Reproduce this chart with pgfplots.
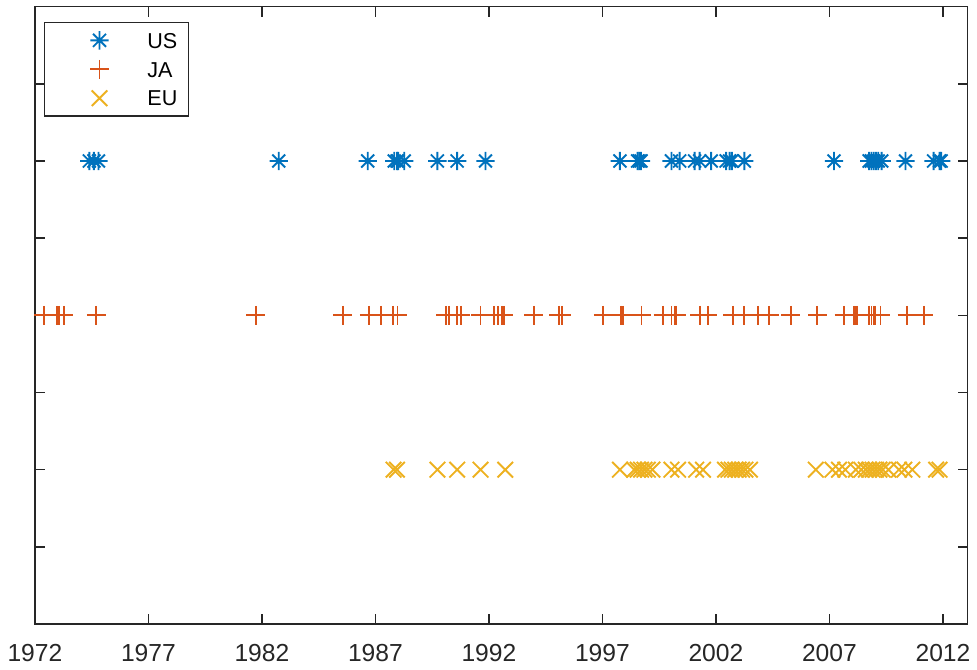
\documentclass[border=0pt]{standalone}
\usepackage{pgfplots}
\pgfplotsset{compat=1.18}
\usepackage{fontspec}
\setmainfont{Liberation Sans}
\definecolor{cUS}{rgb}{0,0.447,0.741}
\definecolor{cJA}{rgb}{0.85,0.325,0.098}
\definecolor{cEU}{rgb}{0.929,0.694,0.125}
\definecolor{axc}{rgb}{0.15,0.15,0.15}
\pgfdeclareplotmark{mstar}{%
  \pgfpathmoveto{\pgfqpoint{-4.6pt}{0pt}}\pgfpathlineto{\pgfqpoint{4.6pt}{0pt}}%
  \pgfpathmoveto{\pgfqpoint{0pt}{-4.6pt}}\pgfpathlineto{\pgfqpoint{0pt}{4.6pt}}%
  \pgfpathmoveto{\pgfqpoint{-3.25pt}{-3.25pt}}\pgfpathlineto{\pgfqpoint{3.25pt}{3.25pt}}%
  \pgfpathmoveto{\pgfqpoint{-3.25pt}{3.25pt}}\pgfpathlineto{\pgfqpoint{3.25pt}{-3.25pt}}%
  \pgfusepathqstroke}
\pgfdeclareplotmark{mx}{%
  \pgfpathmoveto{\pgfqpoint{-3.9pt}{-3.9pt}}\pgfpathlineto{\pgfqpoint{3.9pt}{3.9pt}}%
  \pgfpathmoveto{\pgfqpoint{-3.9pt}{3.9pt}}\pgfpathlineto{\pgfqpoint{3.9pt}{-3.9pt}}%
  \pgfusepathqstroke}
\begin{document}
\begin{tikzpicture}
\begin{axis}[
  at={(0,0)}, anchor=south west,
  scale only axis, width=467.5pt, height=309.5pt,
  xmin=1972, xmax=2013.08, ymin=0, ymax=4,
  xtick={1972,1977,1982,1987,1992,1997,2002,2007,2012},
  xticklabels={1972,1977,1982,1987,1992,1997,2002,2007,2012},
  ytick={0,0.5,1,1.5,2,2.5,3,3.5,4}, yticklabels={},
  tick align=inside, major tick length=5pt,
  axis line style={axc, line width=0.8pt},
  every tick/.style={axc, line width=0.8pt},
  tick label style={font=\fontsize{12.35}{14.8}\selectfont, text=axc},
  xticklabel style={yshift=-6.4pt},
  legend cell align=left,
  legend style={at={(0,1)}, anchor=north west, xshift=4.5pt, yshift=-7.6pt,
    draw=axc, line width=0.8pt, fill=white,
    inner xsep=5.5pt, inner ysep=5pt, row sep=6.7pt, column sep=14pt,
    nodes={inner sep=0pt, text height=7.8pt, text depth=0pt, font=\fontsize{10.8}{13}\selectfont}},
  legend image code/.code={\path[draw=none,fill=none] (-22pt,-3.9pt) rectangle (10pt,3.9pt);
    \begin{scope}[overlay]\draw[#1] plot coordinates {(0pt,0pt)};\end{scope}},
]
\addplot[only marks, mark=mstar, color=cUS, line width=0.95pt] coordinates {
(1974.4,3) (1974.6,3) (1974.8,3) (1982.74,3) (1986.66,3) (1987.83,3) (1987.95,3) (1988.0,3) (1988.27,3)
(1989.73,3) (1990.6,3) (1991.85,3) (1997.77,3) (1998.55,3) (1998.62,3) (1998.7,3)
(2000.04,3) (2000.4,3) (2001.06,3) (2001.28,3) (2001.79,3) (2002.45,3) (2002.6,3) (2002.7,3) (2003.25,3)
(2007.2,3) (2008.75,3) (2008.85,3) (2008.95,3) (2009.05,3) (2009.15,3) (2009.3,3)
(2010.35,3) (2011.59,3) (2011.85,3) (2011.92,3)};
\addlegendentry{US}
\addplot[only marks, mark=+, mark size=4.7pt, color=cJA, line width=0.95pt] coordinates {
(1972.39,2) (1972.98,2) (1973.05,2) (1973.27,2) (1974.7,2) (1981.73,2) (1985.56,2) (1986.73,2) (1987.24,2)
(1987.78,2) (1987.97,2) (1990.09,2) (1990.24,2) (1990.6,2) (1990.75,2) (1991.63,2) (1992.21,2) (1992.39,2)
(1992.58,2) (1992.65,2) (1993.97,2) (1995.07,2) (1995.21,2) (1997.04,2) (1997.8,2) (1997.9,2) (1998.72,2)
(1999.67,2) (2000.04,2) (2000.18,2) (2000.26,2) (2001.28,2) (2001.65,2) (2002.74,2) (2003.25,2) (2003.84,2)
(2004.35,2) (2005.3,2) (2006.47,2) (2007.64,2) (2008.08,2) (2008.15,2) (2008.23,2) (2008.74,2) (2008.85,2)
(2008.95,2) (2009.03,2) (2009.25,2) (2010.42,2) (2011.15,2)};
\addlegendentry{JA}
\addplot[only marks, mark=mx, color=cEU, line width=0.95pt] coordinates {
(1987.8,1) (1987.95,1) (1989.73,1) (1990.6,1) (1991.63,1) (1992.72,1) (1997.77,1) (1998.4,1) (1998.55,1)
(1998.7,1) (1998.85,1) (1999.0,1) (1999.2,1) (2000.04,1) (2000.33,1) (2001.13,1) (2001.43,1) (2002.4,1)
(2002.55,1) (2002.7,1) (2002.85,1) (2003.0,1) (2003.15,1) (2003.3,1) (2003.5,1) (2006.4,1) (2007.13,1)
(2007.42,1) (2007.7,1) (2008.16,1) (2008.4,1) (2008.6,1) (2008.75,1) (2008.9,1) (2009.05,1) (2009.2,1)
(2009.35,1) (2009.6,1) (2010.06,1) (2010.3,1) (2010.65,1) (2011.7,1) (2011.85,1)};
\addlegendentry{EU}
\end{axis}
\path (-17.5pt,-23pt) rectangle (470.5pt,311pt);
\end{tikzpicture}
\end{document}
